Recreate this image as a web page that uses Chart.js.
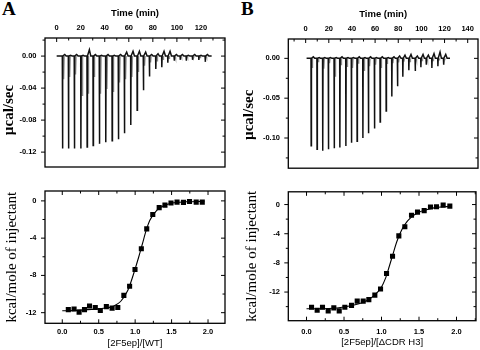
<!DOCTYPE html>
<html>
<head>
<meta charset="utf-8">
<script src="https://cdn.jsdelivr.net/npm/chart.js@4.4.1/dist/chart.umd.min.js"></script>
<style>
  body { margin: 0; background: #fff; }
  #wrap { position: relative; width: 480px; height: 350px; overflow: hidden; }
  canvas { position: absolute; }
  .letter { position: absolute; font: bold 19px 'Liberation Serif', serif; line-height: 19px; }
</style>
</head>
<body>
<div id="wrap">
  <div class="letter" style="left:2px;top:-1px">A</div>
  <div class="letter" style="left:241px;top:-1px">B</div>
  <canvas id="a-top" width="240" height="180" style="left:0;top:0"></canvas>
  <canvas id="a-bottom" width="240" height="172" style="left:0;top:178px"></canvas>
  <canvas id="b-top" width="240" height="181" style="left:240px;top:0"></canvas>
  <canvas id="b-bottom" width="240" height="171" style="left:240px;top:179px"></canvas>
</div>
<script>
/* global Chart */

// raw heat, panel A: injection times (min) and peak / tail / overshoot heights (ucal/sec)
const injTimeA = [4.7, 9.7, 14.6, 20.0, 25.2, 30.2, 35.4, 40.7, 46.0, 51.2, 56.2, 61.5, 66.8, 72.0, 77.0, 82.3, 87.3, 92.3, 97.6, 102.6, 107.6, 112.8, 118.1, 123.4]
const peakA = [-0.1154, -0.1154, -0.1154, -0.1154, -0.1136, -0.1116, -0.1097, -0.1078, -0.1059, -0.1039, -0.0964, -0.086, -0.0677, -0.0428, -0.0256, -0.016, -0.014, -0.0084, -0.0057, -0.0047, -0.0057, -0.0047, -0.0047, -0.0072]
const tailA = [-0.029, -0.026, -0.023, -0.049, -0.047, -0.026, -0.047, -0.041, -0.045, -0.033, -0.029, -0.026, -0.020, -0.012, -0.008, -0.006, -0.004, -0.003, -0.003, -0.002, -0.002, -0.002, -0.002, -0.002]
const overA = [0.002, 0.001, 0.002, 0.001, 0.008, 0.002, 0.001, 0.002, 0.001, 0.002, 0.005, 0.006, 0.006, 0.005, 0.002, 0.003, 0.006, 0.006, 0.002, 0.002, 0.001, 0.002, 0.001, 0.002]
const spanA = [0, 128.9]

// raw heat, panel B
const injTimeB = [4.6, 9.7, 14.6, 19.5, 24.5, 29.4, 34.6, 39.4, 44.3, 49.3, 54.1, 59.3, 64.2, 69.4, 74.3, 79.2, 83.8, 89.0, 94.5, 99.4, 104.0, 108.9, 114.1, 119.0]
const peakB = [-0.1096, -0.114, -0.116, -0.114, -0.113, -0.112, -0.110, -0.106, -0.104, -0.100, -0.094, -0.088, -0.080, -0.066, -0.048, -0.035, -0.023, -0.015, -0.016, -0.011, -0.008, -0.012, -0.010, -0.008]
const tailB = [-0.012, -0.004, -0.013, -0.006, -0.023, -0.008, -0.010, -0.012, -0.006, -0.015, -0.010, -0.008, -0.012, -0.007, -0.006, -0.005, -0.004, -0.004, -0.003, -0.003, -0.003, -0.003, -0.002, -0.002]
const overB = [0.002, 0.001, 0.001, 0.001, 0.001, 0.002, 0.001, 0.001, 0.002, 0.001, 0.002, 0.001, 0.002, 0.001, 0.002, 0.003, 0.004, 0.005, 0.003, 0.005, 0.004, 0.006, 0.008, 0.005]
const spanB = [0.8, 124.7]

// integrated heats (kcal/mole of injectant) vs molar ratio
const ratioA = [0.083, 0.162, 0.231, 0.305, 0.374, 0.453, 0.522, 0.605, 0.684, 0.762, 0.845, 0.924, 0.998, 1.085, 1.159, 1.242, 1.330, 1.409, 1.492, 1.575, 1.663, 1.746, 1.838, 1.921]
const heatA = [-11.67, -11.61, -11.94, -11.67, -11.28, -11.45, -11.77, -11.35, -11.51, -11.45, -10.14, -9.16, -7.36, -5.13, -3.01, -1.47, -0.72, -0.46, -0.23, -0.13, -0.16, -0.07, -0.13, -0.13]
const fitRatioA = [0, 0.2, 0.4, 0.6, 0.7, 0.8, 0.9, 1.0, 1.05, 1.1, 1.15, 1.2, 1.3, 1.4, 1.5, 1.7, 1.95]
const fitHeatA = [-11.8, -11.75, -11.65, -11.5, -11.3, -10.8, -9.6, -7.3, -6.0, -4.6, -3.2, -2.1, -1.0, -0.5, -0.25, -0.1, -0.05]

const ratioB = [0.067, 0.142, 0.213, 0.289, 0.364, 0.436, 0.511, 0.6, 0.676, 0.756, 0.831, 0.911, 0.987, 1.067, 1.147, 1.231, 1.311, 1.4, 1.48, 1.569, 1.653, 1.733, 1.822, 1.911]
const heatB = [-14.08, -14.5, -14.08, -14.58, -14.17, -14.58, -14.08, -13.83, -13.25, -13.25, -13.04, -12.42, -11.58, -9.46, -7.08, -4.29, -3.04, -1.46, -1.04, -0.83, -0.33, -0.29, -0.08, -0.21]
const fitRatioB = [0, 0.3, 0.5, 0.7, 0.8, 0.9, 1.0, 1.05, 1.1, 1.15, 1.2, 1.25, 1.3, 1.4, 1.5, 1.6, 1.7, 1.9]
const fitHeatB = [-14.3, -14.25, -14.05, -13.6, -13.2, -12.5, -11.3, -10.2, -8.6, -6.9, -5.2, -3.9, -2.9, -1.7, -1.05, -0.7, -0.45, -0.25]

// tick labels
const timeTicksA = [0, 20, 40, 60, 80, 100, 120]
const timeTicksB = [0, 20, 40, 60, 80, 100, 120, 140]
const rateTicksA = [-0.12, -0.08, -0.04, 0]
const rateTicksB = [-0.10, -0.05, 0]
const ratioTicks = [0, 0.5, 1, 1.5, 2]
const kcalTicks = [-12, -8, -4, 0]

const SANS = "'Liberation Sans', Arial, sans-serif"
const SERIF = "'Liberation Serif', 'Times New Roman', serif"

Chart.defaults.font.family = SANS
Chart.defaults.color = '#000'

function buildTrace (times, peaks, overs, span) {
  const pts = [{ x: span[0], y: 0 }]
  times.forEach((t, i) => {
    pts.push({ x: t, y: 0 }, { x: t + 0.15, y: peaks[i] }, { x: t + 0.4, y: 0 },
      { x: t + 2, y: overs[i] }, { x: t + 3.2, y: 0 })
  })
  pts.push({ x: span[1], y: 0 })
  return pts
}

function buildTails (times, tails) {
  const pts = []
  times.forEach((t, i) => {
    pts.push({ x: t + 0.9, y: 0 }, { x: t + 1.15, y: tails[i] }, { x: t + 1.6, y: 0 }, { x: t + 1.6, y: null })
  })
  return pts
}

function pairs (xs, ys) {
  return xs.map((x, i) => ({ x, y: ys[i] }))
}

// major + minor tick marks of a scale, [value, length]
function marks (scale) {
  const major = scale.ticks.map(t => t.value)
  const step = major[1] - major[0]
  const out = major.map(v => [v, 4])
  const minor = [major[0] - step / 2].concat(major.map(v => v + step / 2))
  minor.forEach(v => {
    if (v > scale.min && v < scale.max) out.push([v, 2.5])
  })
  return out
}

const frame = {
  id: 'frame',
  afterDraw (chart, args, opts) {
    const { ctx, chartArea: a, scales } = chart
    ctx.save()
    ctx.strokeStyle = '#000'
    ctx.lineWidth = 1.3
    ctx.strokeRect(a.left, a.top, a.right - a.left, a.bottom - a.top)
    ctx.lineWidth = 1
    ctx.beginPath()
    marks(scales.x).forEach(([v, len]) => {
      const px = scales.x.getPixelForValue(v)
      opts.xSides.forEach(side => {
        const y0 = side === 'top' ? a.top : a.bottom
        const dir = side === 'top' ? 1 : -1
        ctx.moveTo(px, y0)
        ctx.lineTo(px, y0 + dir * len)
      })
    })
    marks(scales.y).forEach(([v, len]) => {
      const py = scales.y.getPixelForValue(v)
      ctx.moveTo(a.left, py)
      ctx.lineTo(a.left - len, py)
      ctx.moveTo(a.right, py)
      ctx.lineTo(a.right - len, py)
    })
    ctx.stroke()
    ctx.restore()
  }
}

function makePanel (id, p) {
  return new Chart(document.getElementById(id), {
    type: 'scatter',
    data: { datasets: p.datasets },
    plugins: [frame],
    options: {
      responsive: false,
      animation: false,
      devicePixelRatio: 1,
      layout: { padding: p.padding },
      plugins: { legend: { display: false }, tooltip: { enabled: false }, frame: { xSides: p.xSides } },
      scales: {
        x: {
          type: 'linear',
          position: p.xPos,
          min: p.xRange[0],
          max: p.xRange[1],
          afterBuildTicks: s => { s.ticks = p.xTicks.map(value => ({ value })) },
          afterFit: s => { s.height = p.xHeight },
          grid: { display: false, drawTicks: false },
          border: { display: false },
          ticks: { font: { size: 7.5, weight: 'bold' }, padding: p.xPad, maxRotation: 0, autoSkip: false, callback: p.xFmt },
          title: { display: true, text: p.xTitle, font: p.xTitleFont, padding: p.xTitlePad }
        },
        y: {
          type: 'linear',
          min: p.yRange[0],
          max: p.yRange[1],
          afterBuildTicks: s => { s.ticks = p.yTicks.map(value => ({ value })) },
          afterFit: s => { s.width = p.yWidth },
          grid: { display: false, drawTicks: false },
          border: { display: false },
          ticks: { font: { size: 7.5, weight: 'bold' }, padding: p.yPad, autoSkip: false, callback: p.yFmt },
          title: { display: true, text: p.yTitle, font: p.yTitleFont, padding: p.yTitlePad }
        }
      }
    }
  })
}

function traceSets (times, peaks, tails, overs, span) {
  return [
    { data: buildTrace(times, peaks, overs, span), showLine: true, borderColor: '#111', borderWidth: 1.5, pointRadius: 0, tension: 0 },
    { data: buildTails(times, tails), showLine: true, borderColor: '#8a8a8a', borderWidth: 1.2, pointRadius: 0, spanGaps: false }
  ]
}

function isoSets (xs, ys, fx, fy) {
  return [
    { data: pairs(xs, ys), pointStyle: 'rect', pointRadius: 3.6, backgroundColor: '#000', borderColor: '#000', borderWidth: 0 },
    { data: pairs(fx, fy), showLine: true, borderColor: '#000', borderWidth: 1.1, pointRadius: 0, cubicInterpolationMode: 'monotone' }
  ]
}

const fmt2 = v => v.toFixed(2)
const fmt1 = v => v.toFixed(1)
const fmt0 = v => String(v)
const timeTitleFont = { size: 9.5, weight: 'bold', family: SANS }
const rateTitleFont = { size: 15, weight: 'bold', family: SERIF }
const kcalTitleFont = { size: 15, family: SERIF }
const ratioTitleFont = { size: 9.5, family: SANS }

makePanel('a-top', {
  datasets: traceSets(injTimeA, peakA, tailA, overA, spanA),
  padding: { left: 0, right: 15, top: 0, bottom: 1.5 },
  xPos: 'top', xSides: ['top'], xRange: [-9.7, 140], xTicks: timeTicksA, xHeight: 38, xPad: 5.5, xFmt: fmt0,
  xTitle: 'Time (min)', xTitleFont: timeTitleFont, xTitlePad: { top: 7.6, bottom: 0 },
  yRange: [-0.1386, 0.0226], yTicks: rateTicksA, yWidth: 45, yPad: 8.5, yFmt: fmt2,
  yTitle: 'µcal/sec\u00a0\u00a0\u00a0\u00a0', yTitleFont: rateTitleFont, yTitlePad: { top: 0, bottom: 0 }
})

makePanel('a-bottom', {
  datasets: isoSets(ratioA, heatA, fitRatioA, fitHeatA),
  padding: { left: 0, right: 15, top: 0.5, bottom: 0 },
  xPos: 'bottom', xSides: ['top', 'bottom'], xRange: [-0.237, 2.233], xTicks: ratioTicks, xHeight: 26.7, xPad: 3.9, xFmt: fmt1,
  xTitle: '[2F5ep]/[WT]', xTitleFont: ratioTitleFont, xTitlePad: { top: 0, bottom: 1.3 },
  yRange: [-13.14, 1.06], yTicks: kcalTicks, yWidth: 45, yPad: 8.5, yFmt: fmt0,
  yTitle: 'kcal/mole of injectant', yTitleFont: kcalTitleFont, yTitlePad: { top: 3.5, bottom: 0 }
})

makePanel('b-top', {
  datasets: traceSets(injTimeB, peakB, tailB, overB, spanB),
  padding: { left: 0, right: 2, top: 0, bottom: 1.7 },
  xPos: 'top', xSides: ['top'], xRange: [-15.0, 148.9], xTicks: timeTicksB, xHeight: 39, xPad: 5.2, xFmt: fmt0,
  xTitle: 'Time (min)', xTitleFont: timeTitleFont, xTitlePad: { top: 8.3, bottom: 0 },
  yRange: [-0.1379, 0.0243], yTicks: rateTicksB, yWidth: 48.3, yPad: 8.3, yFmt: fmt2,
  yTitle: 'µcal/sec\u00a0\u00a0\u00a0\u00a0\u00a0\u00a0', yTitleFont: rateTitleFont, yTitlePad: { top: 0, bottom: 0 }
})

makePanel('b-bottom', {
  datasets: isoSets(ratioB, heatB, fitRatioB, fitHeatB),
  padding: { left: 0, right: 2, top: 0.3, bottom: 0 },
  xPos: 'bottom', xSides: ['top', 'bottom'], xRange: [-0.243, 2.26], xTicks: ratioTicks, xHeight: 29.3, xPad: 6.5, xFmt: fmt1,
  xTitle: '[2F5ep]/[ΔCDR H3]', xTitleFont: ratioTitleFont, xTitlePad: { top: 0, bottom: 1.6 },
  yRange: [-15.93, 1.75], yTicks: kcalTicks, yWidth: 48.3, yPad: 8.3, yFmt: fmt0,
  yTitle: 'kcal/mole of injectant', yTitleFont: kcalTitleFont, yTitlePad: { top: 3.5, bottom: 0 }
})
</script>
</body>
</html>
